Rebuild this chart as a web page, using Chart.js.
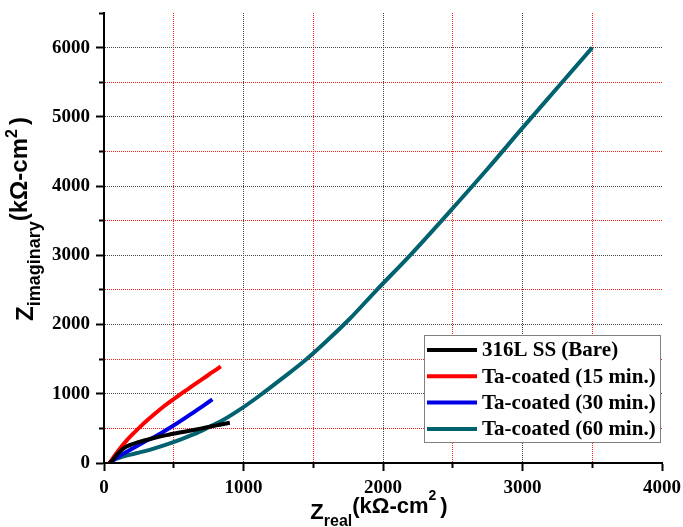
<!DOCTYPE html>
<html lang="en">

<head>
    <meta charset="UTF-8">
    <title>Nyquist - 316L SS / Ta-coated</title>
    <script src="https://cdn.jsdelivr.net/npm/chart.js"></script>
    <style>
        body { margin: 0; background: #fff; }
        canvas { display: block; }
    </style>
</head>

<body>
    <canvas id="grafico" width="683" height="527"></canvas>

    <script>
        // series names and colours
        const etiquetas = ['316L SS (Bare)', 'Ta-coated (15 min.)', 'Ta-coated (30 min.)', 'Ta-coated (60 min.)'];
        const colores = ['#000000', '#ff0000', '#0000e6', '#00626f'];

        // Z real / Z imaginary (kOhm-cm2)
        const bareX = [40, 63, 85, 111, 140, 183, 240, 303, 370, 447, 542, 614, 700, 758, 830, 902];
        const bareY = [0, 43, 105, 160, 212, 258, 298, 332, 368, 403, 440, 466, 500, 524, 553, 582];

        const ta15X = [40, 60, 88, 120, 160, 200, 255, 320, 375, 430, 494, 542, 614, 710, 780, 837];
        const ta15Y = [0, 60, 140, 225, 320, 405, 515, 635, 730, 820, 915, 985, 1085, 1220, 1315, 1395];

        const ta30X = [40, 80, 130, 207, 300, 351, 420, 470, 542, 614, 700, 777];
        const ta30Y = [0, 60, 125, 212, 318, 365, 445, 505, 597, 694, 810, 920];

        const ta60X = [40, 80, 135, 230, 327, 440, 542, 650, 744, 853, 973, 1117, 1280, 1440, 1600, 1760,
            1946, 2194, 2500, 2750, 3000, 3250, 3500];
        const ta60Y = [0, 55, 91, 140, 190, 262, 335, 420, 510, 620, 770, 975, 1225, 1480, 1770, 2080,
            2480, 3000, 3680, 4250, 4840, 5420, 6000];

        // labelled ticks (minor ticks every 500 carry no label)
        const xEtiquetas = [0, 1000, 2000, 3000, 4000];
        const yEtiquetas = [0, 1000, 2000, 3000, 4000, 5000, 6000];

        const serie = (xs, ys) => xs.map((x, i) => ({ x: x, y: ys[i] }));
        const datos = [serie(bareX, bareY), serie(ta15X, ta15Y), serie(ta30X, ta30Y), serie(ta60X, ta60Y)];

        const fuenteTicks = { family: '"Liberation Serif", "Times New Roman", serif', size: 19, weight: 'bold' };

        function colorGrid(max) {
            return (ctx) => {
                const v = ctx.tick ? ctx.tick.value : null;
                if (v === null || v === 0 || v === max) return 'rgba(0,0,0,0)';
                return v % 1000 === 0 ? '#444444' : '#ff2020';
            };
        }

        // minor ticks are shorter: x ticks are drawn from the axis down, y ticks from the outside in
        const tickCortoX = (c) => (c.tick && c.tick.value % 1000 !== 0) ? [4, 100] : [];
        const tickCortoY = (c) => (c.tick && c.tick.value % 1000 !== 0) ? [0, 3, 4, 100] : [];

        // text with sub/superscripts, drawn along a (possibly rotated) baseline
        function textoRico(ctx, partes, cx, cy, angulo) {
            ctx.save();
            let total = 0;
            partes.forEach(p => {
                ctx.font = 'bold ' + p.size + 'px "Liberation Sans", Arial, sans-serif';
                p.w = ctx.measureText(p.t).width;
                total += p.w + (p.gap || 0);
            });
            ctx.translate(cx, cy);
            ctx.rotate(angulo);
            ctx.fillStyle = '#000';
            ctx.textAlign = 'left';
            ctx.textBaseline = 'alphabetic';
            let x = -total / 2;
            partes.forEach(p => {
                ctx.font = 'bold ' + p.size + 'px "Liberation Sans", Arial, sans-serif';
                ctx.fillText(p.t, x, p.dy);
                x += p.w + (p.gap || 0);
            });
            ctx.restore();
        }

        const titulos = {
            id: 'titulos',
            afterDraw(chart) {
                const ctx = chart.ctx;
                const a = chart.chartArea;
                textoRico(ctx, [
                    { t: 'Z', size: 22, dy: 0 },
                    { t: 'real', size: 16, dy: 7 },
                    { t: '(k\u03A9-cm', size: 22, dy: -6 },
                    { t: '2', size: 14, dy: -19, gap: 4 },
                    { t: ')', size: 22, dy: -6 }
                ], (a.left + a.right) / 2 - 4, 519, 0);
                textoRico(ctx, [
                    { t: 'Z', size: 24, dy: 0 },
                    { t: 'imaginary', size: 18, dy: 7 },
                    { t: '(k\u03A9-cm', size: 24, dy: -6 },
                    { t: '2', size: 16, dy: -16, gap: 4 },
                    { t: ')', size: 24, dy: -6 }
                ], 33, 219, -Math.PI / 2);
            }
        };

        const leyenda = {
            id: 'leyenda',
            afterDraw(chart) {
                const ctx = chart.ctx;
                const a = chart.chartArea;
                const bx = a.right - 238, by = a.bottom - 128, bw = 236, bh = 107;
                ctx.save();
                ctx.fillStyle = '#fff';
                ctx.fillRect(bx, by, bw, bh);
                ctx.strokeStyle = '#808080';
                ctx.lineWidth = 1;
                ctx.strokeRect(bx + 0.5, by + 0.5, bw, bh);
                ctx.font = 'bold 21px "Liberation Serif", "Times New Roman", serif';
                ctx.textBaseline = 'middle';
                ctx.textAlign = 'left';
                chart.data.datasets.forEach((ds, i) => {
                    const y = by + 15 + i * 26.3;
                    ctx.strokeStyle = ds.borderColor;
                    ctx.lineWidth = 4;
                    ctx.beginPath();
                    ctx.moveTo(bx + 3, y);
                    ctx.lineTo(bx + 53, y);
                    ctx.stroke();
                    ctx.fillStyle = '#000';
                    ctx.fillText(ds.label, bx + 58, y + 1);
                });
                ctx.restore();
            }
        };

        const ctx = document.getElementById('grafico').getContext('2d');
        const grafico = new Chart(ctx, {
            type: 'scatter',
            data: {
                datasets: datos.map((d, i) => ({
                    label: etiquetas[i],
                    data: d,
                    showLine: true,
                    borderColor: colores[i],
                    backgroundColor: colores[i],
                    borderWidth: 4,
                    pointRadius: 0,
                    cubicInterpolationMode: 'monotone'
                }))
            },
            options: {
                responsive: false,
                animation: false,
                layout: { padding: { top: 13, right: 21, left: 0, bottom: 0 } },
                plugins: {
                    legend: { display: false },
                    tooltip: { enabled: false }
                },
                scales: {
                    x: {
                        type: 'linear',
                        min: 0,
                        max: 4000,
                        afterFit: (s) => { s.height = 64; s.paddingLeft = 0; s.paddingRight = 0; },
                        ticks: {
                            stepSize: 500,
                            autoSkip: false,
                            maxRotation: 0,
                            padding: 6,
                            color: '#000',
                            font: fuenteTicks,
                            callback: (v) => xEtiquetas.includes(v) ? String(v) : ''
                        },
                        grid: {
                            color: colorGrid(4000),
                            lineWidth: 1,
                            tickLength: 8,
                            tickWidth: 2,
                            tickColor: '#000',
                            tickBorderDash: tickCortoX
                        },
                        border: { display: true, color: '#000', width: 2, dash: [1, 1] }
                    },
                    y: {
                        type: 'linear',
                        min: 0,
                        max: 6500,
                        afterFit: (s) => { s.width = 104; s.paddingTop = 0; s.paddingBottom = 0; },
                        ticks: {
                            stepSize: 500,
                            autoSkip: false,
                            padding: 6,
                            color: '#000',
                            font: fuenteTicks,
                            callback: (v) => yEtiquetas.includes(v) ? String(v) : ''
                        },
                        grid: {
                            color: colorGrid(6500),
                            lineWidth: 1,
                            tickLength: 8,
                            tickWidth: 2,
                            tickColor: '#000',
                            tickBorderDash: tickCortoY
                        },
                        border: { display: true, color: '#000', width: 2, dash: [1, 1] }
                    }
                }
            },
            plugins: [titulos, leyenda]
        });
    </script>

</body>

</html>
